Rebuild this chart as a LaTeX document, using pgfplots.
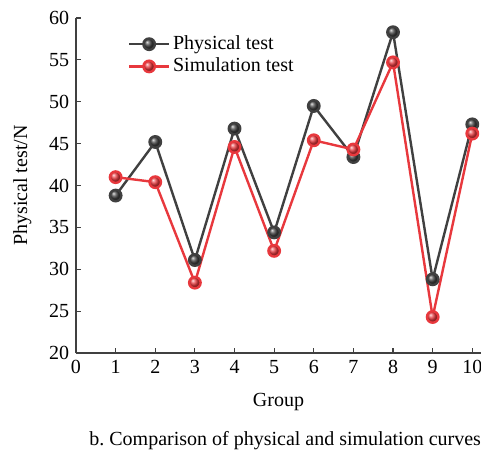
\documentclass[border=0pt]{standalone}
\usepackage{pgfplots}
\pgfplotsset{compat=1.18}
\usepackage{fontspec}
\setmainfont{Liberation Serif}
\definecolor{cgray}{HTML}{404040}
\definecolor{cred}{HTML}{E8383D}
\begin{document}
\fontsize{15}{18}\selectfont
\begin{tikzpicture}
\begin{axis}[
  scale only axis,
  width=303.75pt, height=251.25pt,
  xmin=0, xmax=10.22, ymin=20, ymax=60,
  axis x line=bottom, axis y line=left,
  axis line style={-, line width=1pt, black!75},
  xtick={0,1,...,10}, ytick={20,25,...,60},
  tick align=inside, major tick length=3.8pt,
  tick style={line width=0.8pt, black!75},
  /pgf/number format/assume math mode=true,
  ticklabel style={font=\fontsize{15}{18}\selectfont},
  label style={font=\fontsize{15}{18}\selectfont},
  xlabel={Group}, ylabel={Physical test/N},
  xlabel style={yshift=-5pt},
  ylabel style={yshift=3pt},
  legend cell align=left,
  legend style={at={(rel axis cs:0.128,0.955)}, anchor=north west, draw=none, fill=none,
    font=\fontsize{15}{18}\selectfont, row sep=0pt, inner sep=0pt, outer sep=0pt},
  legend image code/.code={\draw[mark repeat=2,mark phase=2,#1] plot coordinates {(0cm,0cm)(0.53cm,0cm)(1.06cm,0cm)};},
  clip=false,
]
\coordinate (bl) at (rel axis cs:0,0);
\addplot[cgray, line width=1.8pt, mark=ball, mark size=4.3pt, mark options={ball color=cgray}] coordinates {
(1,38.8)(2,45.2)(3,31.1)(4,46.8)(5,34.4)(6,49.5)(7,43.4)(8,58.3)(9,28.8)(10,47.3)};
\addlegendentry{Physical test}
\addplot[cred, line width=1.8pt, mark=ball, mark size=4.3pt, mark options={ball color=cred}] coordinates {
(1,41.0)(2,40.4)(3,28.4)(4,44.6)(5,32.2)(6,45.4)(7,44.3)(8,54.7)(9,24.3)(10,46.2)};
\addlegendentry{Simulation test}
\node[anchor=base, font=\fontsize{15}{18}\selectfont] at ([xshift=5pt,yshift=-69pt]current axis.south) {b.\ Comparison of physical and simulation curves};
\end{axis}
\pgfresetboundingbox
\path[use as bounding box] (bl) ++(-57pt,-76.5pt) rectangle ++(360.75pt,341.25pt);
\end{tikzpicture}
\end{document}
